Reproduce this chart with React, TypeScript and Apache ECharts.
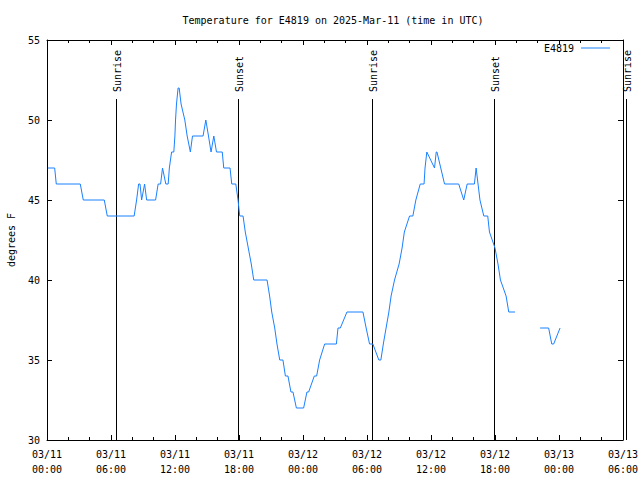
import React, { useEffect, useRef } from "react";
import * as echarts from "echarts";

// Hours since 2025-03-11 00:00 UTC, and temperature in °F (null = gap in record)
const hours: number[] = [
  0.08, 0.72, 0.87, 3.12, 3.4, 5.37, 5.65, 8.17, 8.4, 8.59, 8.72, 8.87, 9.15, 9.34, 10.18, 10.42,
  10.65, 10.83, 11.14, 11.36, 11.47, 11.68, 11.89, 11.99, 12.05, 12.14, 12.29, 12.39, 12.57, 12.92,
  13.14, 13.44, 13.64, 14.63, 14.89, 15.14, 15.38, 15.64, 15.89, 16.43, 16.57, 17.16, 17.32, 17.7,
  17.91, 18.07, 18.38, 18.59, 18.87, 19.15, 19.38, 20.63, 20.87, 21.07, 21.35, 21.56, 21.82, 22.12,
  22.35, 22.59, 22.87, 23.06, 23.38, 24.06, 24.37, 24.53, 25.06, 25.28, 25.56, 26.03, 27.13, 27.28,
  27.5, 28.12, 29.62, 29.92, 30.24, 30.55, 31.11, 31.3, 31.53, 31.79, 32.05, 32.26, 32.58, 33.01,
  33.29, 33.5, 33.99, 34.3, 34.58, 34.99, 35.35, 35.44, 35.61, 36.33, 36.49, 36.56, 37.27, 38.6,
  39.07, 39.39, 40.07, 40.23, 40.59, 40.95, 41.32, 41.48, 42.0, 42.28, 42.51, 43.04, 43.29, 43.88,
  45.0,
  46.23, 47.03, 47.32, 47.5, 48.1,
];
const tempF: (number | null)[] = [
  47, 47, 46, 46, 45, 45, 44, 44, 45, 46, 46, 45, 46, 45, 45, 46,
  46, 47, 46, 46, 47, 48, 48, 49, 50, 51, 52, 52, 51, 50,
  49, 48, 49, 49, 50, 49, 48, 49, 48, 48, 47, 47, 46, 46,
  45, 44, 44, 43, 42, 41, 40, 40, 39, 38, 37, 36, 35, 35,
  34, 34, 33, 33, 32, 32, 33, 33, 34, 34, 35, 36, 36, 37,
  37, 38, 38, 37, 36, 36, 35, 35, 36, 37, 38, 39, 40, 41,
  42, 43, 44, 44, 45, 46, 46, 47, 48, 47, 48, 48, 46, 46,
  45, 46, 46, 47, 45, 44, 44, 43, 42, 41, 40, 39, 38, 38,
  null,
  37, 37, 36, 36, 37,
];

const eventNames: string[] = ["Sunrise", "Sunset", "Sunrise", "Sunset", "Sunrise"];
const eventHours: number[] = [6.45, 17.88, 30.43, 41.9, 54.3];

const xTickLabels: string[] = [
  "03/11\n00:00", "03/11\n06:00", "03/11\n12:00", "03/11\n18:00", "03/12\n00:00",
  "03/12\n06:00", "03/12\n12:00", "03/12\n18:00", "03/13\n00:00", "03/13\n06:00",
];

const seriesName = "E4819";
const titleText = "Temperature for E4819 on 2025-Mar-11 (time in UTC)";

const FONT_FAMILY = "'DejaVu Sans Mono', 'Liberation Mono', monospace";
const FONT = `10px ${FONT_FAMILY}`;
const LINE_COLOR = "#1a80ff";

export default function App() {
  const ref = useRef<HTMLDivElement>(null);

  useEffect(() => {
    if (!ref.current) return;
    const chart = echarts.init(ref.current, undefined, { renderer: "svg" });

    const lineData = hours.map((h, i) => [h, tempF[i] === null ? "-" : tempF[i]]);
    const eventData = eventHours.map((h) => [h, 30]);

    const axisCommonX = {
      type: "value" as const,
      min: 0,
      max: 54,
      interval: 6,
      axisLine: { show: true, onZero: false, lineStyle: { color: "#000", width: 1 } },
      axisTick: { show: true, inside: true, length: 5, lineStyle: { color: "#000" } },
      minorTick: { show: true, splitNumber: 3, length: 3, lineStyle: { color: "#000" } },
      splitLine: { show: false },
    };
    const axisCommonY = {
      type: "value" as const,
      min: 30,
      max: 55,
      interval: 5,
      axisLine: { show: true, onZero: false, lineStyle: { color: "#000", width: 1 } },
      axisTick: { show: true, inside: true, length: 5, lineStyle: { color: "#000" } },
      splitLine: { show: false },
    };

    chart.setOption({
      animation: false,
      backgroundColor: "#fff",
      grid: {
        left: 47,
        right: 17,
        top: 40,
        bottom: 40,
        containLabel: false,
        outerBoundsMode: "none",
      },
      graphic: [
        {
          type: "text",
          x: 333,
          y: 20,
          style: {
            text: titleText,
            font: FONT,
            fill: "#000",
            align: "center",
            verticalAlign: "middle",
          },
        },
      ],
      legend: {
        data: [{ name: seriesName, icon: "rect" }],
        right: 30,
        top: 43,
        padding: 0,
        align: "right",
        itemWidth: 29,
        itemHeight: 1,
        itemStyle: { color: LINE_COLOR },
        textStyle: { fontFamily: FONT_FAMILY, fontSize: 10, color: "#000", padding: [0, 2, 0, 0] },
      },
      xAxis: [
        {
          ...axisCommonX,
          position: "bottom",
          axisLabel: {
            show: true,
            margin: 7,
            color: "#000",
            fontFamily: FONT_FAMILY,
            fontSize: 10,
            lineHeight: 15,
            formatter: (v: number) => xTickLabels[Math.round(v / 6)] ?? "",
          },
        },
        {
          ...axisCommonX,
          position: "top",
          axisLabel: { show: false },
        },
      ],
      yAxis: [
        {
          ...axisCommonY,
          position: "left",
          name: "degrees F",
          nameLocation: "middle",
          nameGap: 31,
          nameTextStyle: { fontFamily: FONT_FAMILY, fontSize: 10, color: "#000" },
          axisLabel: {
            show: true,
            margin: 7,
            color: "#000",
            fontFamily: FONT_FAMILY,
            fontSize: 10,
          },
        },
        {
          ...axisCommonY,
          position: "right",
          axisLabel: { show: false },
        },
      ],
      series: [
        {
          type: "custom",
          name: "events",
          xAxisIndex: 0,
          yAxisIndex: 0,
          clip: false,
          silent: true,
          data: eventData,
          renderItem: (params: any, api: any) => {
            const h = api.value(0);
            const bottom = api.coord([h, 30]);
            const top = api.coord([h, 55]);
            const x = Math.round(bottom[0]) + 0.5;
            const yTop = bottom[1] - (bottom[1] - top[1]) * 0.8525;
            return {
              type: "group",
              children: [
                {
                  type: "line",
                  shape: { x1: x, y1: bottom[1], x2: x, y2: yTop },
                  style: { stroke: "#000", lineWidth: 1 },
                },
                {
                  type: "text",
                  x: x + 1,
                  y: yTop - 7,
                  rotation: Math.PI / 2,
                  style: {
                    text: eventNames[params.dataIndex],
                    font: FONT,
                    fill: "#000",
                    align: "left",
                    verticalAlign: "middle",
                  },
                },
              ],
            };
          },
        },
        {
          type: "line",
          name: seriesName,
          xAxisIndex: 0,
          yAxisIndex: 0,
          data: lineData,
          showSymbol: false,
          symbol: "none",
          connectNulls: false,
          color: LINE_COLOR,
          lineStyle: { color: LINE_COLOR, width: 1 },
        },
      ],
    });

    return () => chart.dispose();
  }, []);

  return <div ref={ref} style={{ width: 640, height: 480, position: "absolute", left: 0, top: 0 }} />;
}
